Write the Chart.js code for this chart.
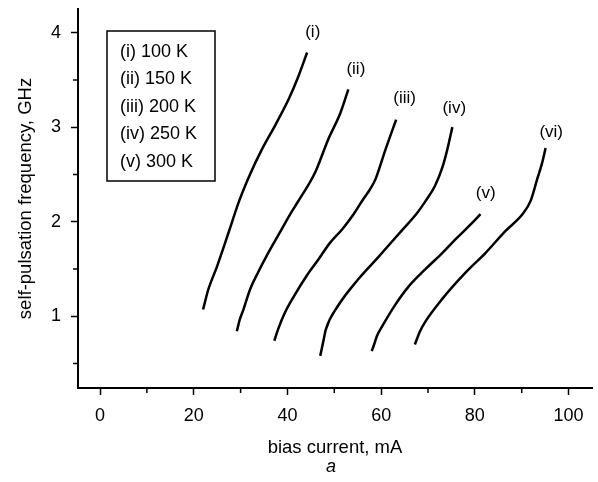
<!DOCTYPE html>
<html>
<head>
<meta charset="utf-8">
<script src="https://cdn.jsdelivr.net/npm/chart.js@4/dist/chart.umd.min.js"></script>
<style>
  html, body { margin: 0; padding: 0; background: #fff; }
</style>
</head>
<body>
<canvas id="myChart" width="598" height="482"></canvas>
<script>
// bias current (mA) / self-pulsation frequency (GHz), one pair per curve
const currentI = [22.0, 22.5, 23.1, 25.0, 27.4, 29.7, 32.0, 34.5, 37.5, 40.3, 42.2, 44.2];
const freqI = [1.07, 1.17, 1.28, 1.53, 1.88, 2.22, 2.50, 2.76, 3.03, 3.30, 3.52, 3.79];

const currentII = [29.2, 29.8, 30.6, 32.0, 33.8, 35.9, 38.2, 40.6, 42.1, 45.9, 48.7, 51.3, 53.0];
const freqII = [0.84, 0.96, 1.07, 1.28, 1.47, 1.67, 1.87, 2.08, 2.20, 2.52, 2.87, 3.15, 3.40];

const currentIII = [37.2, 38.0, 39.3, 41.5, 44.0, 46.6, 49.0, 51.7, 54.0, 56.2, 57.6, 58.8, 60.9, 63.2];
const freqIII = [0.74, 0.86, 1.02, 1.22, 1.42, 1.60, 1.77, 1.92, 2.07, 2.24, 2.34, 2.45, 2.76, 3.08];

const currentIV = [47.0, 47.6, 48.2, 50.8, 55.1, 59.3, 64.1, 67.5, 69.5, 71.5, 73.1, 74.1, 75.2];
const freqIV = [0.58, 0.72, 0.86, 1.11, 1.39, 1.62, 1.89, 2.08, 2.22, 2.38, 2.58, 2.76, 3.00];

const currentV = [58.0, 58.5, 59.1, 60.3, 63.0, 65.8, 69.5, 73.1, 76.0, 79.1, 81.2];
const freqV = [0.63, 0.70, 0.79, 0.90, 1.12, 1.31, 1.50, 1.67, 1.82, 1.97, 2.08];

const currentVI = [67.2, 68.2, 69.4, 73.0, 78.0, 82.3, 86.5, 90.2, 91.9, 93.3, 94.4, 95.1];
const freqVI = [0.70, 0.83, 0.94, 1.18, 1.46, 1.67, 1.90, 2.08, 2.22, 2.45, 2.63, 2.78];

// curve tags and where they sit (data units)
const curveNames = ["(i)", "(ii)", "(iii)", "(iv)", "(v)", "(vi)"];
const labelCurrent = [45.4, 54.6, 65.0, 75.6, 82.3, 96.3];
const labelFreq = [4.0, 3.61, 3.30, 3.20, 2.30, 2.95];

const legendLines = ["(i) 100 K", "(ii) 150 K", "(iii) 200 K", "(iv) 250 K", "(v) 300 K"];

const FONT = "'Liberation Sans', Arial, Helvetica, sans-serif";

function toPoints(xs, ys) {
  return xs.map((x, i) => ({ x: x, y: ys[i] }));
}

const series = [
  [currentI, freqI],
  [currentII, freqII],
  [currentIII, freqIII],
  [currentIV, freqIV],
  [currentV, freqV],
  [currentVI, freqVI],
];

const isMajorX = (v) => Math.abs(v % 20) < 1e-6;
const isMajorY = (v) => Math.abs(v - Math.round(v)) < 1e-6;

// short minor ticks, curve tags, legend box, panel letter
const extras = {
  id: "extras",
  afterDraw(chart) {
    const ctx = chart.ctx;
    const xs = chart.scales.x;
    const ys = chart.scales.y;
    const area = chart.chartArea;
    ctx.save();

    // minor ticks
    ctx.strokeStyle = "#000";
    ctx.lineWidth = 1.5;
    ctx.beginPath();
    xs.ticks.forEach((t) => {
      if (!isMajorX(t.value)) {
        const px = xs.getPixelForValue(t.value);
        ctx.moveTo(px, area.bottom);
        ctx.lineTo(px, area.bottom + 5);
      }
    });
    ys.ticks.forEach((t) => {
      if (!isMajorY(t.value)) {
        const py = ys.getPixelForValue(t.value);
        ctx.moveTo(area.left - 5, py);
        ctx.lineTo(area.left, py);
      }
    });
    ctx.stroke();

    // curve tags
    ctx.fillStyle = "#000";
    ctx.font = "17px " + FONT;
    ctx.textAlign = "center";
    ctx.textBaseline = "middle";
    curveNames.forEach((name, i) => {
      ctx.fillText(name, xs.getPixelForValue(labelCurrent[i]), ys.getPixelForValue(labelFreq[i]));
    });

    // legend box
    const bx = area.left + 29;
    const by = area.top + 22;
    ctx.lineWidth = 1.5;
    ctx.strokeRect(bx, by, 108, 150);
    ctx.font = "18px " + FONT;
    ctx.textAlign = "left";
    legendLines.forEach((line, i) => {
      ctx.fillText(line, bx + 13, by + 21 + i * 27.5);
    });

    // panel letter
    ctx.font = "italic 18px " + FONT;
    ctx.textAlign = "center";
    ctx.fillText("a", (area.left + area.right) / 2 - 4, chart.height - 15);

    ctx.restore();
  },
};

const ctx = document.getElementById("myChart").getContext("2d");

new Chart(ctx, {
  type: "scatter",
  data: {
    datasets: series.map(([xs, ys], i) => ({
      label: curveNames[i],
      data: toPoints(xs, ys),
      showLine: true,
      borderColor: "#000",
      borderWidth: 2.5,
      pointRadius: 0,
      cubicInterpolationMode: "monotone",
    })),
  },
  options: {
    responsive: false,
    animation: false,
    layout: { padding: { top: 9, right: 6, left: 0, bottom: 0 } },
    plugins: {
      legend: { display: false },
      tooltip: { enabled: false },
    },
    scales: {
      x: {
        type: "linear",
        min: -4.7,
        max: 105,
        afterFit: (scale) => {
          scale.height = 94;
          scale.paddingLeft = 0;
          scale.paddingRight = 0;
        },
        border: { display: true, color: "#000", width: 2 },
        grid: {
          drawOnChartArea: false,
          drawTicks: true,
          tickLength: 7,
          tickWidth: 1.5,
          tickColor: (c) => (c.tick && isMajorX(c.tick.value) ? "#000" : "rgba(0,0,0,0)"),
        },
        ticks: {
          stepSize: 10,
          includeBounds: false,
          autoSkip: false,
          maxRotation: 0,
          padding: 10,
          color: "#000",
          font: { family: FONT, size: 18 },
          callback: (v) => (isMajorX(v) ? String(v) : ""),
        },
        title: {
          display: true,
          text: "bias current, mA",
          color: "#000",
          font: { family: FONT, size: 18.5 },
          padding: { top: 0, bottom: 23 },
        },
      },
      y: {
        type: "linear",
        min: 0.24,
        max: 4.25,
        afterFit: (scale) => {
          scale.width = 78;
          scale.paddingTop = 0;
          scale.paddingBottom = 0;
        },
        border: { display: true, color: "#000", width: 2 },
        grid: {
          drawOnChartArea: false,
          drawTicks: true,
          tickLength: 7,
          tickWidth: 1.5,
          tickColor: (c) => (c.tick && isMajorY(c.tick.value) ? "#000" : "rgba(0,0,0,0)"),
        },
        ticks: {
          stepSize: 0.5,
          includeBounds: false,
          autoSkip: false,
          padding: 10,
          color: "#000",
          font: { family: FONT, size: 18 },
          callback: (v) => (isMajorY(v) ? String(Math.round(v)) : ""),
        },
        title: {
          display: true,
          text: "self-pulsation frequency, GHz",
          color: "#000",
          font: { family: FONT, size: 18.5 },
          padding: { top: 15, bottom: 0 },
        },
      },
    },
  },
  plugins: [extras],
});
</script>
</body>
</html>
